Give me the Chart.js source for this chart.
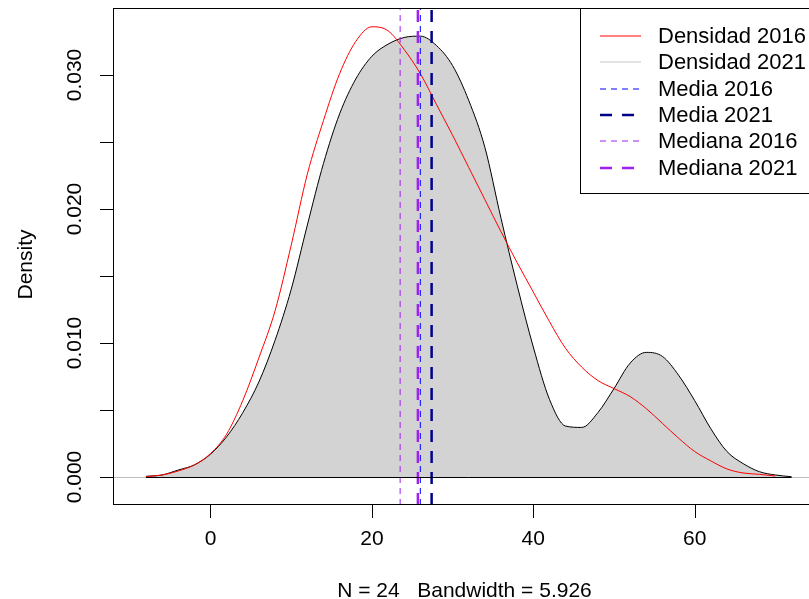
<!DOCTYPE html>
<html>
<head>
<meta charset="utf-8">
<script src="https://cdn.jsdelivr.net/npm/chart.js@4.4.1/dist/chart.umd.min.js"></script>
<style>
    html, body { margin: 0; padding: 0; background: #fff; overflow: hidden; }
    #wrap { width: 809px; height: 599px; overflow: hidden; }
</style>
</head>
<body>
<div id="wrap"><canvas id="chart" width="830" height="599"></canvas></div>
<script>
// Density grid (x values)
const densX = [-8, -6, -4, -2, 0, 2, 4, 6, 8, 10, 12, 14, 16, 18, 20, 22, 24, 26, 28, 30,
    32, 34, 36, 38, 40, 42, 44, 46, 48, 50, 52, 54, 56, 58, 60, 62, 64, 66, 68, 70, 72];

// Densidad 2021 (gray polygon)
const dens2021 = [0.00005, 0.00015, 0.00052, 0.0009, 0.0017, 0.0030, 0.0048, 0.0071, 0.0102, 0.0140,
    0.0188, 0.0234, 0.0271, 0.0297, 0.0314, 0.0323, 0.0328, 0.0329, 0.0322, 0.0307,
    0.0281, 0.0246, 0.0193, 0.0143, 0.0097, 0.0058, 0.0038, 0.0037, 0.0048, 0.0066,
    0.0085, 0.0093, 0.0090, 0.0076, 0.0057, 0.0036, 0.0019, 0.0010, 0.0004, 0.00015, 0.00002];

// Densidad 2016 (red line)
const dens2016 = [0.00003, 0.00015, 0.00045, 0.0009, 0.00175, 0.0032, 0.0057, 0.0089, 0.0124, 0.0173,
    0.0226, 0.0266, 0.0301, 0.0325, 0.0336, 0.0333, 0.0319, 0.0301, 0.0278, 0.0255,
    0.0231, 0.0207, 0.0183, 0.0160, 0.0138, 0.0116, 0.0096, 0.0082, 0.0072, 0.0066,
    0.0060, 0.0051, 0.0040, 0.0029, 0.0019, 0.0012, 0.0006, 0.0003, 0.0002, 0.00007, null];

// Vertical reference lines
const media2016 = 26.0;
const media2021 = 27.4;
const mediana2016 = 23.5;
const mediana2021 = 25.7;

// Axis ticks and labels
const xTicks = [0, 20, 40, 60];
const yTicks = [0, 0.005, 0.010, 0.015, 0.020, 0.025, 0.030];
const yLabels = ["0.000", "0.010", "0.020", "0.030"];
const yLabelValues = [0, 0.010, 0.020, 0.030];
const xRange = [-12.08, 75.03];
const yRange = [-0.00209, 0.0350];

const legendLabels = ["Densidad 2016", "Densidad 2021", "Media 2016", "Media 2021", "Mediana 2016", "Mediana 2021"];
const subTitle = "N = 24   Bandwidth = 5.926";
const yTitle = "Density";

const FONT = "21px 'Liberation Sans', Arial, sans-serif";
const LEGEND_FONT = "22px 'Liberation Sans', Arial, sans-serif";
const colors = {
    red: "#FF0000",
    fill: "#D3D3D3",
    gray: "#BEBEBE",
    blue: "#0000FF",
    navy: "#00008B",
    purple: "#A020F0"
};

// legend styles, in legend order
const legendStyles = [
    { color: colors.red, width: 1, dash: [] },
    { color: "#C8C8C8", width: 1, dash: [] },
    { color: colors.blue, width: 1, dash: [6, 5] },
    { color: colors.navy, width: 2.5, dash: [12, 10] },
    { color: colors.purple, width: 1, dash: [6, 5] },
    { color: colors.purple, width: 2.5, dash: [12, 10] }
];

function pts(xs, ys) {
    return xs.map((x, i) => ({ x: x, y: ys[i] }));
}

function vline(v) {
    return [{ x: v, y: yRange[0] }, { x: v, y: yRange[1] }];
}

// Baseline (h = 0) drawn before datasets, axes/legend after
const rFrame = {
    id: "rFrame",
    beforeDatasetsDraw(chart) {
        const { ctx, chartArea, scales } = chart;
        const y0 = Math.round(scales.y.getPixelForValue(0)) + 0.5;
        ctx.save();
        ctx.strokeStyle = colors.gray;
        ctx.lineWidth = 1;
        ctx.beginPath();
        ctx.moveTo(chartArea.left, y0);
        ctx.lineTo(chartArea.right, y0);
        ctx.stroke();
        ctx.restore();
    },
    afterDatasetsDraw(chart) {
        // closing edge of the 2021 polygon
        const { ctx, scales } = chart;
        const y0 = Math.round(scales.y.getPixelForValue(0)) + 0.5;
        ctx.save();
        ctx.strokeStyle = "#000";
        ctx.lineWidth = 1;
        ctx.beginPath();
        ctx.moveTo(scales.x.getPixelForValue(densX[0]), y0);
        ctx.lineTo(scales.x.getPixelForValue(densX[densX.length - 1]), y0);
        ctx.stroke();
        ctx.restore();
    },
    afterDraw(chart) {
        const { ctx, chartArea, scales } = chart;
        const L = chartArea.left, R = chartArea.right, T = chartArea.top, B = chartArea.bottom;
        ctx.save();
        ctx.strokeStyle = "#000";
        ctx.fillStyle = "#000";
        ctx.lineWidth = 1;
        ctx.setLineDash([]);
        // box
        ctx.strokeRect(L + 0.5, T + 0.5, R - L - 1, B - T - 1);

        // y ticks
        ctx.beginPath();
        yTicks.forEach(v => {
            const y = Math.round(scales.y.getPixelForValue(v)) + 0.5;
            ctx.moveTo(L - 13, y);
            ctx.lineTo(L, y);
        });
        // x ticks
        xTicks.forEach(v => {
            const x = Math.round(scales.x.getPixelForValue(v)) + 0.5;
            ctx.moveTo(x, B);
            ctx.lineTo(x, B + 13);
        });
        ctx.stroke();

        ctx.font = FONT;
        // y labels, rotated
        yLabelValues.forEach((v, i) => {
            const y = scales.y.getPixelForValue(v);
            ctx.save();
            ctx.translate(81, y);
            ctx.rotate(-Math.PI / 2);
            ctx.textAlign = "center";
            ctx.textBaseline = "alphabetic";
            ctx.fillText(yLabels[i], 0, 0);
            ctx.restore();
        });
        // x labels
        ctx.textAlign = "center";
        ctx.textBaseline = "alphabetic";
        xTicks.forEach(v => {
            ctx.fillText(String(v), scales.x.getPixelForValue(v), 545);
        });
        // sub title
        ctx.fillText(subTitle, (L + R) / 2, 597);
        // y title
        ctx.save();
        ctx.translate(32, (T + B) / 2 + 8);
        ctx.rotate(-Math.PI / 2);
        ctx.fillText(yTitle, 0, 0);
        ctx.restore();

        // legend
        const boxL = 580, boxT = T, boxB = 193;
        ctx.strokeRect(boxL + 0.5, boxT + 0.5, R - boxL - 1, boxB - boxT);
        ctx.font = LEGEND_FONT;
        ctx.textAlign = "left";
        ctx.textBaseline = "middle";
        legendLabels.forEach((lab, i) => {
            const y = 36 + i * 26.3;
            const st = legendStyles[i];
            ctx.save();
            ctx.strokeStyle = st.color;
            ctx.lineWidth = st.width;
            ctx.setLineDash(st.dash);
            ctx.beginPath();
            ctx.moveTo(600, Math.round(y));
            ctx.lineTo(641, Math.round(y));
            ctx.stroke();
            ctx.restore();
            ctx.fillStyle = "#000";
            ctx.fillText(lab, 658, y + 1);
        });
        ctx.restore();
    }
};

const ctx = document.getElementById("chart").getContext("2d");
const chart = new Chart(ctx, {
    type: "line",
    data: {
        datasets: [
            // first listed is drawn on top
            { data: vline(mediana2021), borderColor: colors.purple, borderWidth: 2.5, borderDash: [12, 9] },
            { data: vline(mediana2016), borderColor: colors.purple, borderWidth: 1, borderDash: [6, 5] },
            { data: vline(media2021), borderColor: colors.navy, borderWidth: 2.5, borderDash: [12, 9] },
            { data: vline(media2016), borderColor: colors.blue, borderWidth: 1, borderDash: [6, 5] },
            {
                data: pts(densX, dens2016),
                borderColor: colors.red,
                borderWidth: 1,
                cubicInterpolationMode: "monotone",
                fill: false
            },
            {
                data: pts(densX, dens2021),
                borderColor: "#000",
                backgroundColor: colors.fill,
                borderWidth: 1,
                cubicInterpolationMode: "monotone",
                fill: "origin"
            }
        ]
    },
    options: {
        responsive: false,
        animation: false,
        events: [],
        layout: { padding: { left: 113, top: 8, right: 14, bottom: 94 } },
        elements: { point: { radius: 0 }, line: { borderCapStyle: "butt" } },
        plugins: {
            legend: { display: false },
            tooltip: { enabled: false },
            filler: { propagate: false }
        },
        scales: {
            x: { type: "linear", min: xRange[0], max: xRange[1], display: false },
            y: { type: "linear", min: yRange[0], max: yRange[1], display: false }
        }
    },
    plugins: [rFrame]
});
</script>
</body>
</html>
